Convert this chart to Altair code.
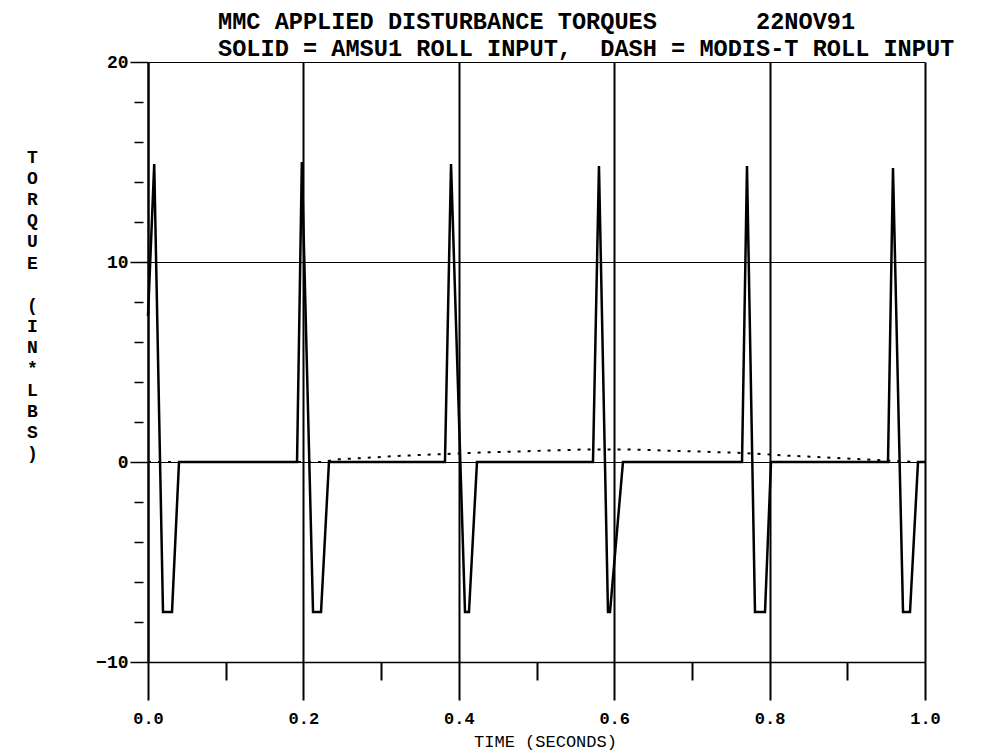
import altair as alt
import pandas as pd

# AMSU1 roll input (solid curve): time (s) and torque (in*lbs)
amsu_t = [0.000, 0.008, 0.0193, 0.0309, 0.0399,
          0.1918, 0.198, 0.2124, 0.2227, 0.2329,
          0.3822, 0.390, 0.4080, 0.4131, 0.4234,
          0.5727, 0.5804, 0.5920, 0.5946, 0.6113,
          0.7645, 0.7709, 0.7812, 0.7941, 0.8018,
          0.9524, 0.9588, 0.9717, 0.9807, 0.9910, 1.000]
amsu_v = [7.3, 14.9, -7.5, -7.5, 0.0,
          0.0, 15.0, -7.5, -7.5, 0.0,
          0.0, 14.9, -7.5, -7.5, 0.0,
          0.0, 14.8, -7.5, -7.5, 0.0,
          0.0, 14.8, -7.5, -7.5, 0.0,
          0.0, 14.7, -7.5, -7.5, 0.0, 0.0]

# MODIS-T roll input (dashed curve)
modis_t = [0.000, 0.2227, 0.243, 0.277, 0.320, 0.363, 0.427, 0.565,
           0.616, 0.753, 0.790, 0.817, 0.938, 0.964, 0.991, 1.000]
modis_v = [0.0, 0.0, 0.13, 0.20, 0.30, 0.37, 0.47, 0.63,
           0.63, 0.47, 0.40, 0.33, 0.10, 0.05, 0.0, 0.0]

x_major_vals = [0.0, 0.2, 0.4, 0.6, 0.8, 1.0]
x_minor_vals = [0.1, 0.3, 0.5, 0.7, 0.9]
y_major_vals = [-10, 0, 10, 20]
y_minor_vals = [-8, -6, -4, -2, 2, 4, 6, 8, 12, 14, 16, 18]

y_title_word = ["T", "O", "R", "Q", "U", "E"]
y_title_unit = ["(", "I", "N", "*", "L", "B", "S", ")"]

NB = "\u00a0"
title_text = NB * 5 + "MMC APPLIED DISTURBANCE TORQUES" + NB * 7 + "22NOV91"
subtitle_text = "SOLID = AMSU1 ROLL INPUT," + NB * 2 + "DASH = MODIS-T ROLL INPUT"

FONT = "Liberation Mono"
LH = 21.2

df_a = pd.DataFrame({"t": amsu_t, "v": amsu_v})
df_m = pd.DataFrame({"t": modis_t, "v": modis_v})

xscale = alt.Scale(domain=[0, 1], nice=False, zero=False)
yscale = alt.Scale(domain=[-10, 20], nice=False, zero=False)

x_major = alt.Axis(
    orient="bottom", values=x_major_vals, format=".1f",
    grid=True, gridColor="black", gridWidth=2, gridOpacity=1,
    ticks=True, tickSize=38, tickWidth=2, tickColor="black",
    domain=True, domainColor="black", domainWidth=1.5,
    labelFont=FONT, labelFontSize=17, labelFontWeight="bold", labelColor="black",
    labelPadding=10, labelFlush=False, labelOverlap=False,
    title="TIME (SECONDS)", titleFont=FONT, titleFontSize=17, titleFontWeight="normal",
    titleColor="black", titleX=397, titleY=84, titleAlign="center", titleBaseline="alphabetic",
)
y_major = alt.Axis(
    orient="left", values=y_major_vals, format="d",
    grid=True, gridColor="black", gridWidth=1, gridOpacity=1,
    ticks=True, tickSize=18, tickWidth=1.5, tickColor="black",
    domain=True, domainColor="black", domainWidth=2,
    labelFont=FONT, labelFontSize=18, labelFontWeight="bold", labelColor="black",
    labelPadding=2, labelFlush=False, labelOverlap=False,
    title=y_title_word, titleFont=FONT, titleFontSize=18, titleFontWeight="bold",
    titleColor="black", titleAngle=0, titleX=-116, titleY=100, titleAlign="center",
    titleBaseline="alphabetic", titleLineHeight=LH,
)
x_minor = alt.Axis(
    orient="bottom", values=x_minor_vals, labels=False, grid=False, domain=False,
    ticks=True, tickSize=18, tickWidth=2, tickColor="black", title="",
)
y_minor = alt.Axis(
    orient="left", values=y_minor_vals, labels=False, grid=False, domain=False,
    ticks=True, tickSize=9, tickWidth=1.5, tickColor="black", offset=5,
    title=y_title_unit, titleFont=FONT, titleFontSize=18, titleFontWeight="bold",
    titleColor="black", titleAngle=0, titleX=-111, titleY=100 + 7 * LH, titleAlign="center",
    titleBaseline="alphabetic", titleLineHeight=LH,
)

dash = alt.Chart(df_m).mark_line(color="black", strokeWidth=2, strokeDash=[3, 7]).encode(
    x=alt.X("t:Q", scale=xscale, axis=x_minor),
    y=alt.Y("v:Q", scale=yscale, axis=y_minor),
)
solid = alt.Chart(df_a).mark_line(color="black", strokeWidth=2.5).encode(
    x=alt.X("t:Q", scale=xscale, axis=x_major),
    y=alt.Y("v:Q", scale=yscale, axis=y_major),
)

chart = (
    alt.layer(dash, solid)
    .resolve_scale(x="shared", y="shared")
    .resolve_axis(x="independent", y="independent")
    .properties(
        width=777, height=600,
        autosize=alt.AutoSizeParams(type="none"),
        padding={"left": 140, "top": 54, "right": 55, "bottom": 90},
        background="white",
        title=alt.TitleParams(
            text=title_text, subtitle=subtitle_text, anchor="start", frame="group",
            dx=70, offset=-8, font=FONT, fontSize=23.6, fontWeight="bold", color="black",
            subtitleFont=FONT, subtitleFontSize=23.6, subtitleFontWeight="bold",
            subtitleColor="black", subtitlePadding=4,
        ),
    )
    .configure_view(strokeWidth=0)
)

chart.save("out.html", embed_options={"renderer": "svg", "actions": False})
